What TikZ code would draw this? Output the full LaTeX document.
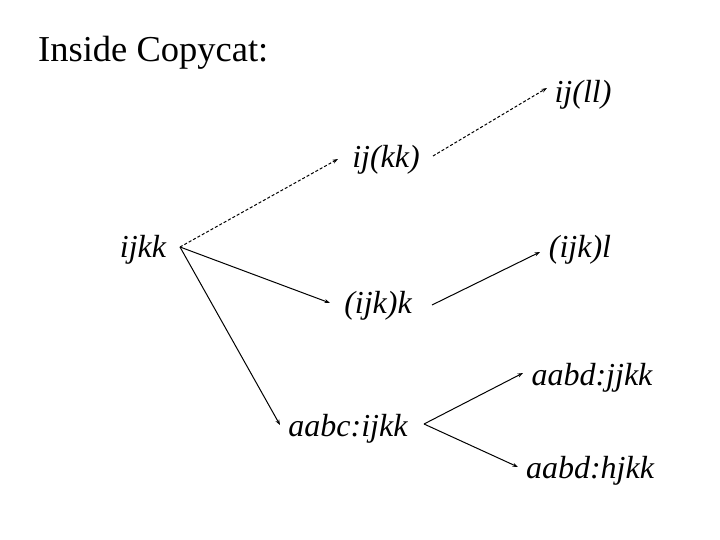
\documentclass[tikz,border=0pt]{standalone}
\usepackage{fontspec}
\setmainfont{Liberation Serif}
\usetikzlibrary{arrows.meta}
\begin{document}
\begin{tikzpicture}[x=1pt,y=-1pt,
  lbl/.style={anchor=base,inner sep=0pt,font=\fontsize{32}{37}\selectfont\itshape},
  conn/.style={line width=1pt,-{Stealth[length=5.5pt,width=4pt]}},
  dconn/.style={conn,dash pattern=on 3pt off 2pt}]
\useasboundingbox[fill=white] (0,0) rectangle (720,540);
\node[anchor=base west,inner sep=0pt,font=\fontsize{36.5}{42}\selectfont] (title) at (38,62) {Inside Copycat:};
\node[lbl] (ijkk) at (143,258) {ijkk};
\node[lbl] (ijkkp) at (386,168) {ij(kk)};
\node[lbl] (ijllp) at (583,103) {ij(ll)};
\node[lbl] (ijkpk) at (378,313) {(ijk)k};
\node[lbl] (ijkpl) at (580,258) {(ijk)l};
\node[lbl] (aabc) at (348,436) {aabc:ijkk};
\node[lbl] (aabdj) at (592,385) {aabd:jjkk};
\node[lbl] (aabdh) at (590,478) {aabd:hjkk};
\draw[dconn] ([shift={(37,-11)}]ijkk.base) -- ([shift={(-48,-9)}]ijkkp.base);
\draw[dconn] ([shift={(47,-12)}]ijkkp.base) -- ([shift={(-36,-15)}]ijllp.base);
\draw[conn] ([shift={(37,-11)}]ijkk.base) -- ([shift={(-48,-10)}]ijkpk.base);
\draw[conn] ([shift={(54,-8)}]ijkpk.base) -- ([shift={(-40,-6)}]ijkpl.base);
\draw[conn] ([shift={(37,-11)}]ijkk.base) -- ([shift={(-68,-11)}]aabc.base);
\draw[conn] ([shift={(76,-12)}]aabc.base) -- ([shift={(-69,-12)}]aabdj.base);
\draw[conn] ([shift={(76,-12)}]aabc.base) -- ([shift={(-72,-11)}]aabdh.base);
\end{tikzpicture}
\end{document}
